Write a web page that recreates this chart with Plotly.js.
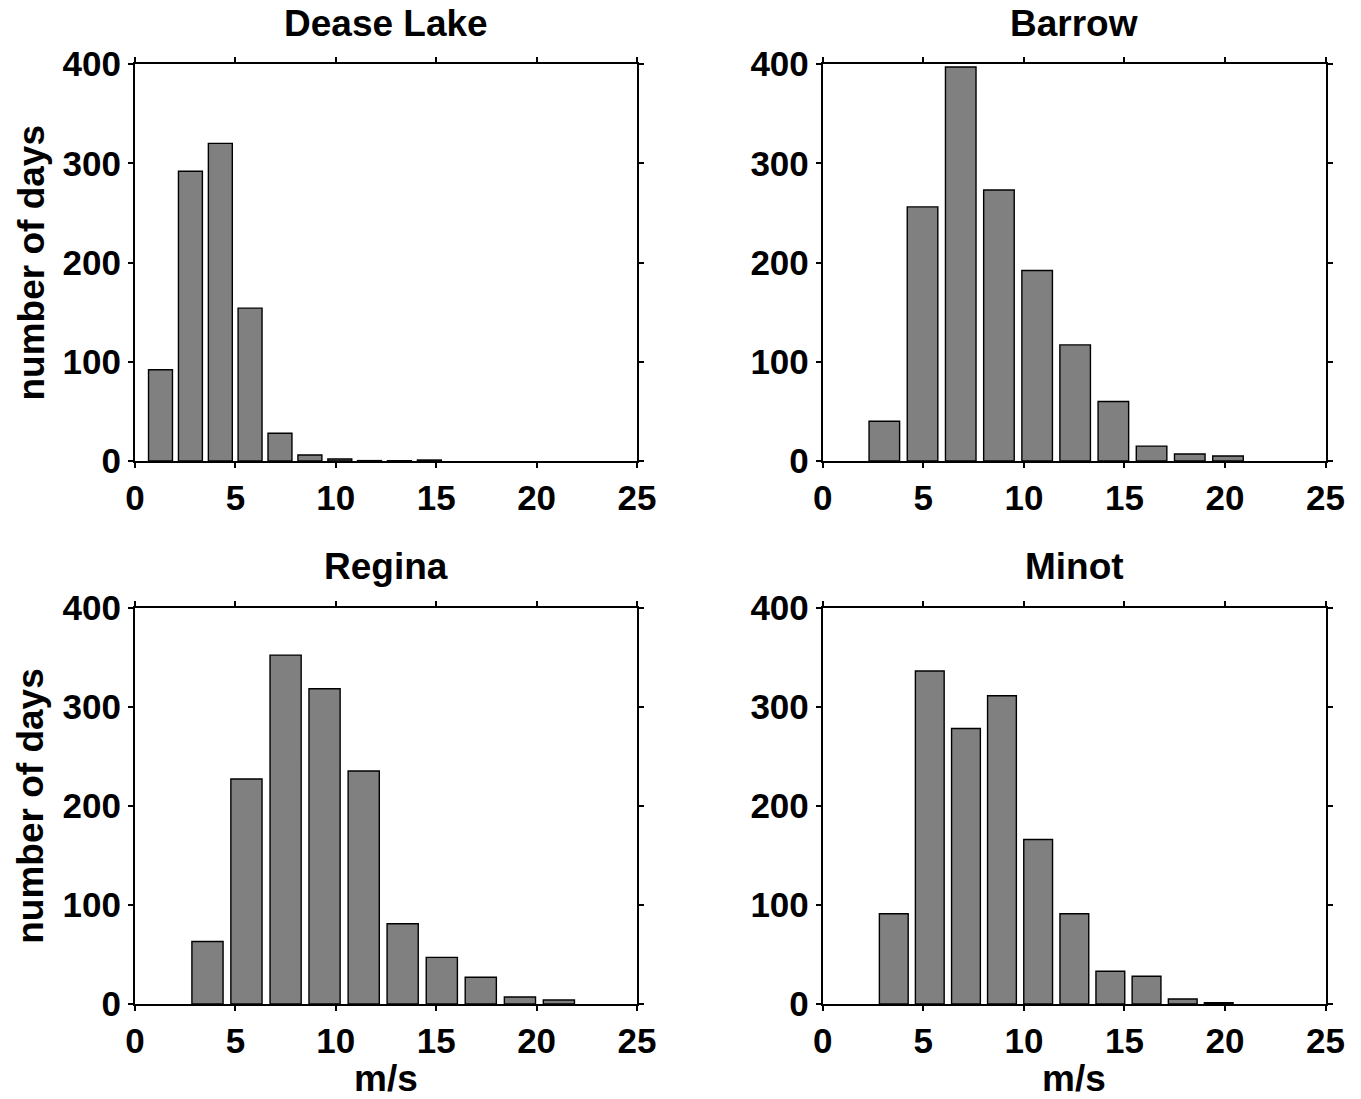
<!DOCTYPE html>
<html>
<head>
<meta charset="utf-8">
<script src="https://cdn.plot.ly/plotly-3.0.1.min.js"></script>
<style>
  html, body { margin: 0; padding: 0; background: #ffffff; }
  #chart { width: 1361px; height: 1099px; }
</style>
</head>
<body>
<div id="chart"></div>
<script>
// Daily wind speed histograms (10 bins each), bin centres in m/s
const deaseCenters  = [1.27, 2.76, 4.25, 5.73, 7.22, 8.71, 10.20, 11.68, 13.17, 14.66];
const deaseCounts   = [92, 292, 320, 154, 28, 6, 2, 0.4, 0.3, 1];

const barrowCenters = [3.06, 4.96, 6.86, 8.76, 10.66, 12.55, 14.45, 16.35, 18.25, 20.15];
const barrowCounts  = [40, 256, 397, 273, 192, 117, 60, 15, 7, 5];

const reginaCenters = [3.61, 5.55, 7.50, 9.44, 11.39, 13.33, 15.28, 17.22, 19.17, 21.11];
const reginaCounts  = [63, 227, 352, 318, 235, 81, 47, 27, 7, 4];

const minotCenters  = [3.53, 5.32, 7.12, 8.91, 10.71, 12.51, 14.30, 16.10, 17.90, 19.69];
const minotCounts   = [91, 336, 278, 311, 166, 91, 33, 28, 5, 1.3];

const stationNames  = ["Dease Lake", "Barrow", "Regina", "Minot"];
const xTickVals     = [0, 5, 10, 15, 20, 25];
const yTickVals     = [0, 100, 200, 300, 400];
const yAxisLabel    = "number of days";
const xAxisLabel    = "m/s";

const FONT = "Liberation Sans, Arial, Helvetica, sans-serif";
const W = 1361, H = 1099;

const series = [
  { x: deaseCenters,  y: deaseCounts,  xa: "x",  ya: "y"  },
  { x: barrowCenters, y: barrowCounts, xa: "x2", ya: "y2" },
  { x: reginaCenters, y: reginaCounts, xa: "x3", ya: "y3" },
  { x: minotCenters,  y: minotCounts,  xa: "x4", ya: "y4" }
];

// bars fill 80% of each bin
const traces = series.map(s => ({
  type: "bar",
  x: s.x,
  y: s.y,
  width: 0.8 * (s.x[1] - s.x[0]),
  xaxis: s.xa,
  yaxis: s.ya,
  marker: { color: "#808080", line: { color: "#000000", width: 1.4 } },
  hoverinfo: "x+y"
}));

// panel rectangles in pixels: [left, right, top, bottom]
const panels = [
  [135.0, 637.0, 64.0, 461.0],
  [822.8, 1325.5, 64.0, 461.0],
  [135.0, 637.0, 607.5, 1004.0],
  [822.8, 1325.5, 607.5, 1004.0]
];

const tickFont = { family: FONT, size: 35, color: "#000", weight: "bold" };

function xAxis(p, anchor) {
  return {
    domain: [p[0] / W, p[1] / W],
    anchor: anchor,
    range: [0, 25],
    tickvals: xTickVals,
    ticks: "outside", ticklen: 5, tickwidth: 2, tickcolor: "#000",
    showline: true, linewidth: 2, linecolor: "#000", mirror: "ticks",
    showgrid: false, zeroline: false,
    tickfont: tickFont, fixedrange: true
  };
}
function yAxis(p, anchor) {
  return {
    domain: [1 - p[3] / H, 1 - p[2] / H],
    anchor: anchor,
    range: [0, 400],
    tickvals: yTickVals,
    ticks: "outside", ticklen: 5, tickwidth: 2, tickcolor: "#000",
    showline: true, linewidth: 2, linecolor: "#000", mirror: "ticks",
    showgrid: false, zeroline: false,
    tickfont: tickFont, fixedrange: true
  };
}

const titleFont = { family: FONT, size: 37, color: "#000", weight: "bold" };
const annotations = [];
panels.forEach((p, i) => {
  annotations.push({
    text: stationNames[i], xref: "paper", yref: "paper",
    x: (p[0] + p[1]) / 2 / W, y: 1 - (p[2] - 41) / H,
    xanchor: "center", yanchor: "middle", showarrow: false, font: titleFont
  });
});
[panels[0], panels[2]].forEach(p => {
  annotations.push({
    text: yAxisLabel, xref: "paper", yref: "paper",
    x: 31 / W, y: 1 - (p[2] + p[3]) / 2 / H,
    xanchor: "center", yanchor: "middle", textangle: -90,
    showarrow: false, font: titleFont
  });
});
[panels[2], panels[3]].forEach(p => {
  annotations.push({
    text: xAxisLabel, xref: "paper", yref: "paper",
    x: (p[0] + p[1]) / 2 / W, y: 1 - (p[3] + 74) / H,
    xanchor: "center", yanchor: "middle",
    showarrow: false, font: titleFont
  });
});

const layout = {
  width: W, height: H,
  margin: { l: 0, r: 0, t: 0, b: 0 },
  paper_bgcolor: "#ffffff", plot_bgcolor: "#ffffff",
  showlegend: false,
  bargap: 0,
  font: { family: FONT, color: "#000" },
  xaxis:  xAxis(panels[0], "y"),
  yaxis:  yAxis(panels[0], "x"),
  xaxis2: xAxis(panels[1], "y2"),
  yaxis2: yAxis(panels[1], "x2"),
  xaxis3: xAxis(panels[2], "y3"),
  yaxis3: yAxis(panels[2], "x3"),
  xaxis4: xAxis(panels[3], "y4"),
  yaxis4: yAxis(panels[3], "x4"),
  annotations: annotations
};

Plotly.newPlot("chart", traces, layout, { displayModeBar: false, staticPlot: true });
</script>
</body>
</html>
